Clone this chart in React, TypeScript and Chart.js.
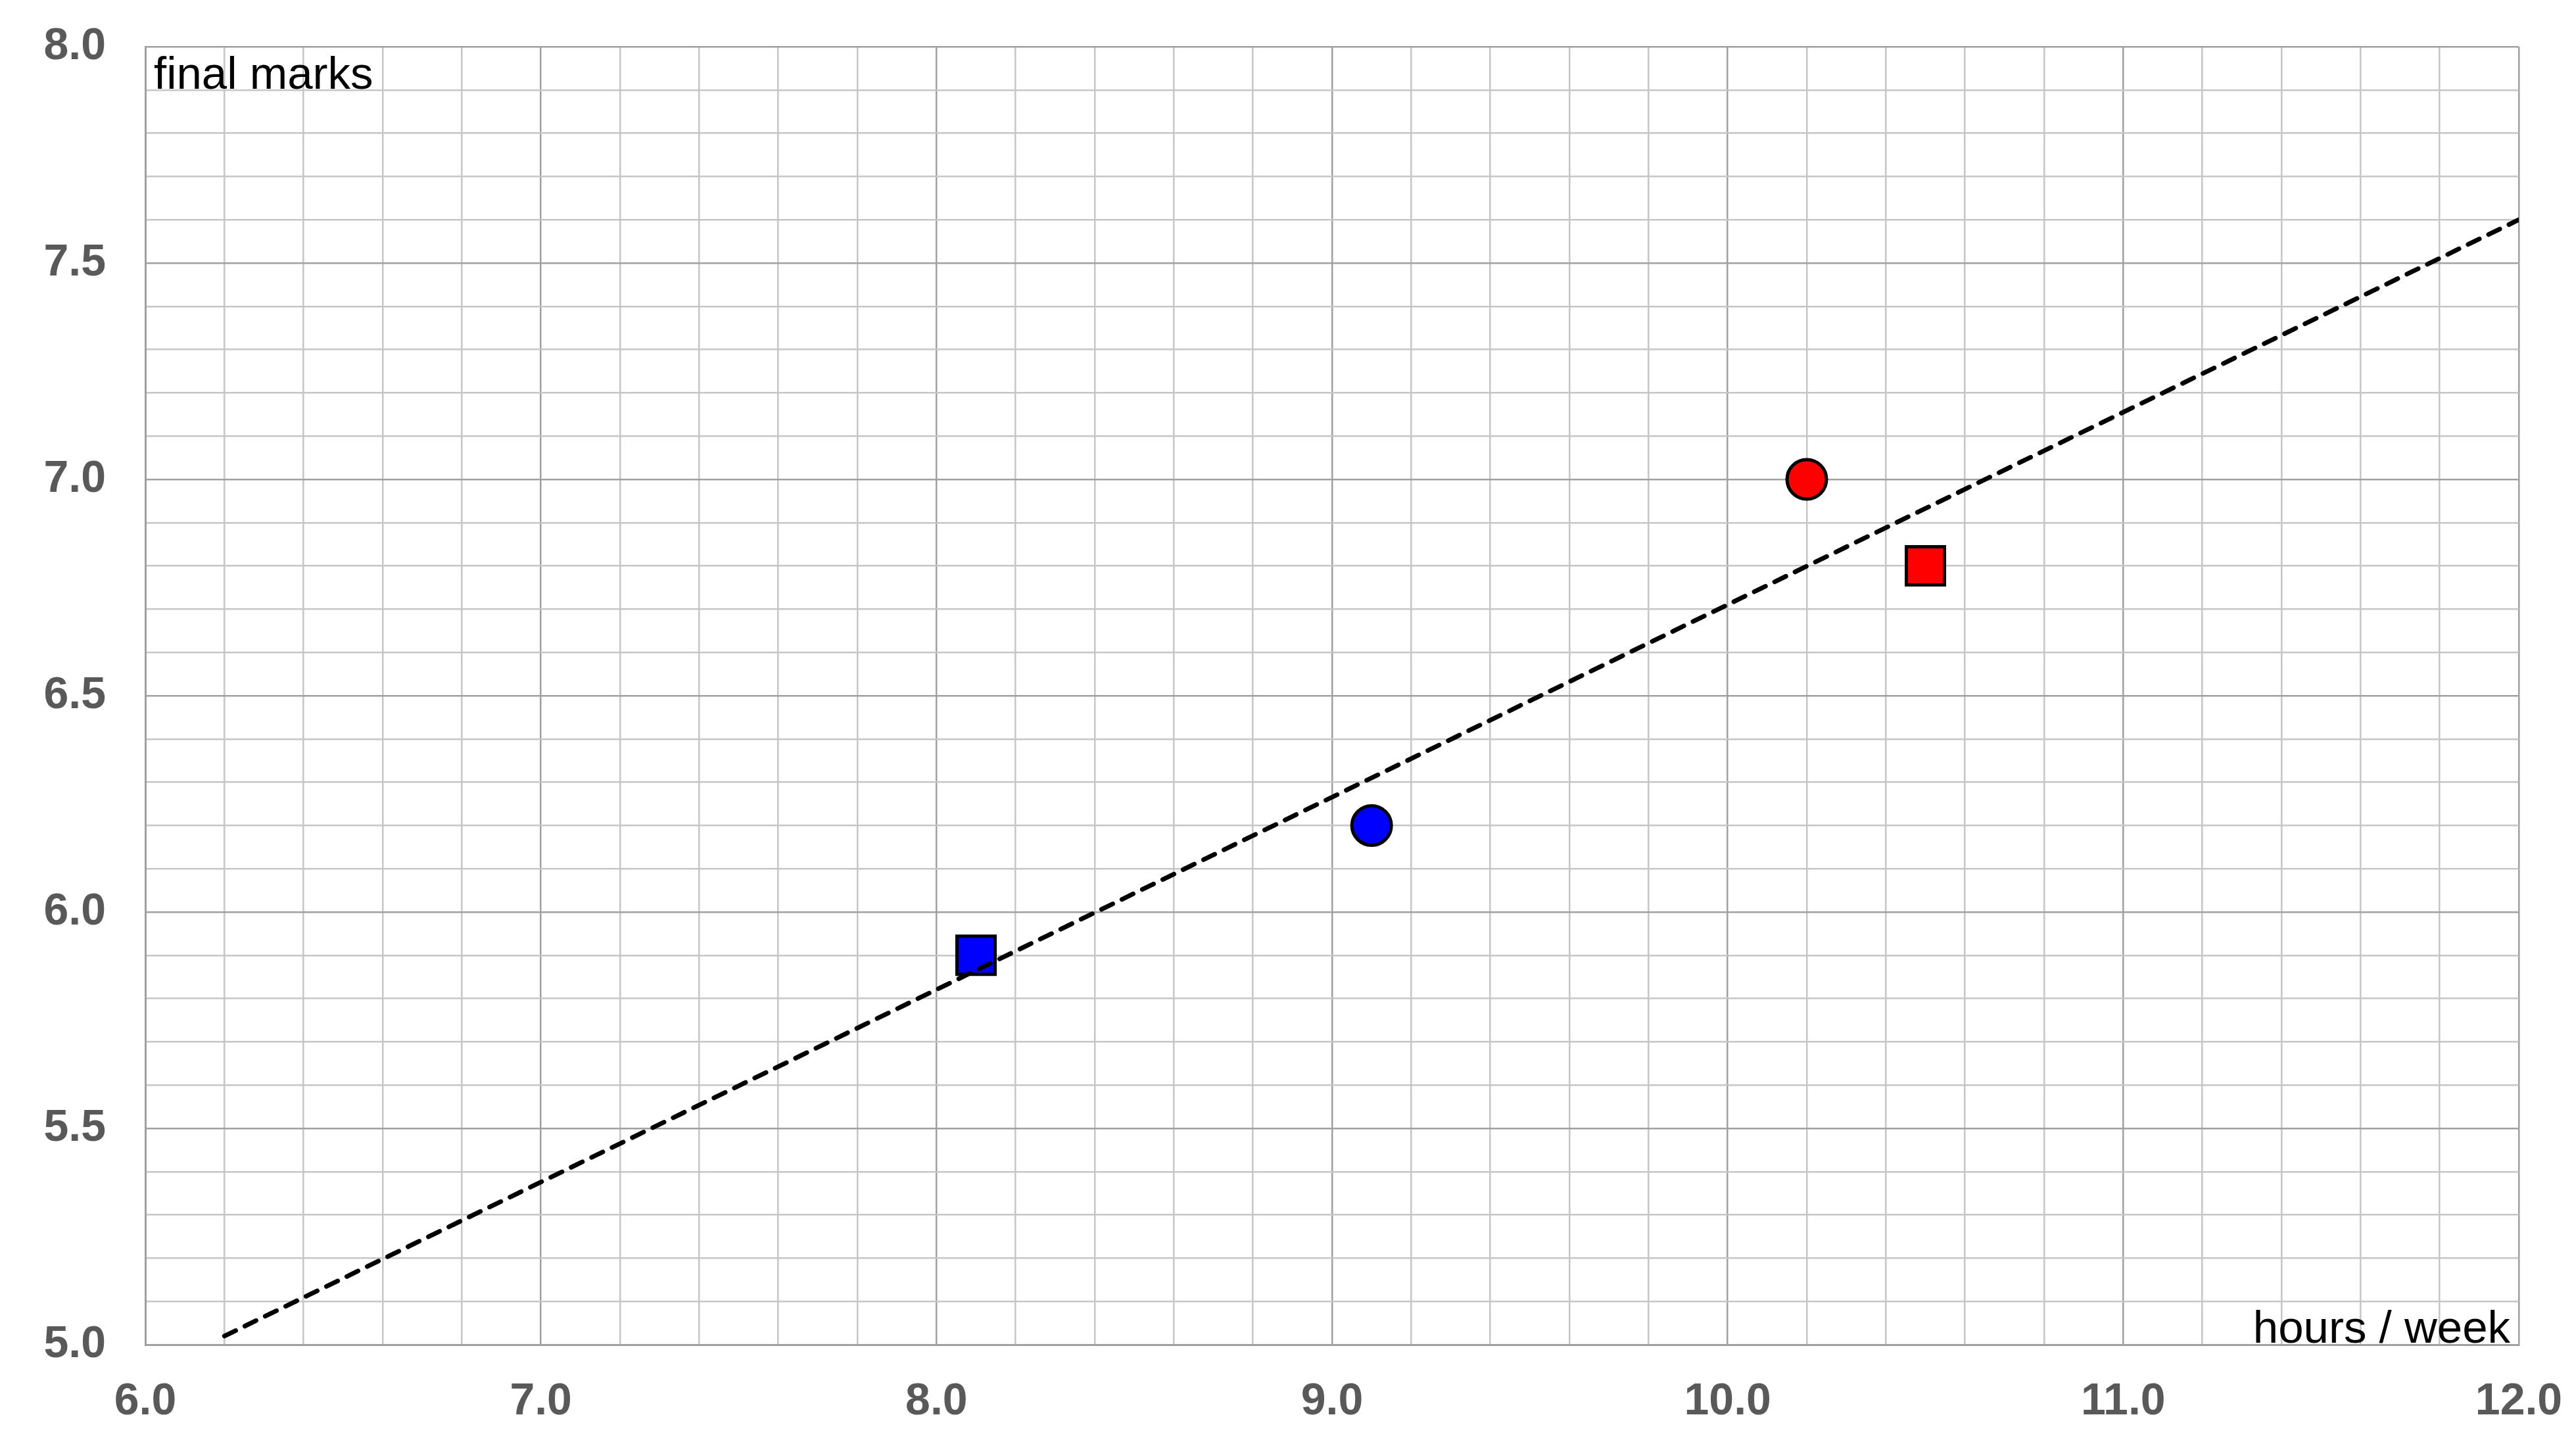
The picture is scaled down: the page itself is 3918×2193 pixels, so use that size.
import React, { useEffect, useRef } from "react";
import { Chart, registerables } from "chart.js";

Chart.register(...registerables);

// ---- data ----
const groups = ["blue square", "blue circle", "red circle", "red square"];
const hoursPerWeek = [8.1, 9.1, 10.2, 10.5];
const finalMarks = [5.9, 6.2, 7.0, 6.8];
const trendHours = [6.2, 12.0];
const trendMarks = [5.02, 7.6];
const xRange = [6, 12];
const yRange = [5, 8];
const xAxisTitle = "hours / week";
const yAxisTitle = "final marks";

// ---- styles ----
const groupColor = ["#0000ff", "#0000ff", "#ff0000", "#ff0000"];
const groupShape = ["rect", "circle", "circle", "rect"];

const W = 3918;
const H = 2193;
const MINOR = "#c6c6c6";
const MAJOR = "#a0a0a0";
const TICK_FONT = { family: "'Liberation Sans', Arial, sans-serif", size: 68, weight: "bold" as const };

const near = (v: number, step: number) => Math.abs(v / step - Math.round(v / step)) < 1e-6;

const zeroPad = (s: any) => {
  s.paddingTop = 0;
  s.paddingBottom = 0;
  s.paddingLeft = 0;
  s.paddingRight = 0;
};

const textPlugin = {
  id: "axisTexts",
  afterDraw(chart: any) {
    const { ctx, chartArea } = chart;
    ctx.save();
    ctx.fillStyle = "#000";
    ctx.font = "69px 'Liberation Sans', Arial, sans-serif";
    ctx.textBaseline = "alphabetic";
    ctx.textAlign = "left";
    ctx.fillText(yAxisTitle, chartArea.left + 13, chartArea.top + 64);
    ctx.textAlign = "right";
    ctx.fillText(xAxisTitle, chartArea.right - 13, chartArea.bottom - 3);
    ctx.restore();
  },
};

export default function App() {
  const ref = useRef<HTMLCanvasElement | null>(null);
  useEffect(() => {
    if (!ref.current) return;
    const pointData = hoursPerWeek.map((x, i) => ({ x, y: finalMarks[i] }));
    const radii = groupShape.map((s) => (s === "rect" ? 41 : 30));
    const chart = new Chart(ref.current, {
      type: "scatter",
      data: {
        datasets: [
          {
            label: "trend",
            data: trendHours.map((x, i) => ({ x, y: trendMarks[i] })),
            showLine: true,
            borderColor: "#000",
            borderWidth: 7,
            borderDash: [19, 15.5],
            borderCapStyle: "round",
            pointRadius: 0,
            fill: false,
          } as any,
          {
            label: groups.join(", "),
            data: pointData,
            pointStyle: groupShape as any,
            backgroundColor: groupColor,
            pointBackgroundColor: groupColor,
            pointBorderColor: "#000",
            pointBorderWidth: 5,
            pointRadius: radii,
            pointHoverRadius: radii,
          } as any,
        ],
      },
      options: {
        responsive: false,
        animation: false,
        layout: { padding: { left: 0, top: 71, right: 87, bottom: 0 } },
        plugins: { legend: { display: false }, tooltip: { enabled: false } },
        scales: {
          x: {
            type: "linear",
            min: xRange[0],
            max: xRange[1],
            afterFit: (s: any) => {
              s.height = 148;
              zeroPad(s);
            },
            border: { display: true, color: MAJOR, width: 3 },
            grid: {
              drawTicks: false,
              lineWidth: 2.5,
              color: (c: any) => (near(c.tick.value, 1) ? MAJOR : MINOR),
            },
            ticks: {
              stepSize: 0.2,
              autoSkip: false,
              maxRotation: 0,
              padding: 46,
              color: "#595959",
              font: TICK_FONT,
              callback: (v: any) => (near(Number(v), 1) ? Number(v).toFixed(1) : ""),
            },
          },
          y: {
            type: "linear",
            min: yRange[0],
            max: yRange[1],
            afterFit: (s: any) => {
              s.width = 221;
              zeroPad(s);
            },
            border: { display: true, color: MAJOR, width: 3 },
            grid: {
              drawTicks: false,
              lineWidth: 2.5,
              color: (c: any) => (near(c.tick.value, 0.5) ? MAJOR : MINOR),
            },
            ticks: {
              stepSize: 0.1,
              autoSkip: false,
              padding: 60,
              color: "#595959",
              font: TICK_FONT,
              callback: (v: any) => (near(Number(v), 0.5) ? Number(v).toFixed(1) : ""),
            },
          },
        },
      },
      plugins: [textPlugin],
    });
    return () => chart.destroy();
  }, []);
  return (
    <div style={{ position: "fixed", left: 0, top: 0, width: W, height: H, background: "#fff" }}>
      <canvas ref={ref} width={W} height={H} style={{ display: "block" }} />
    </div>
  );
}
